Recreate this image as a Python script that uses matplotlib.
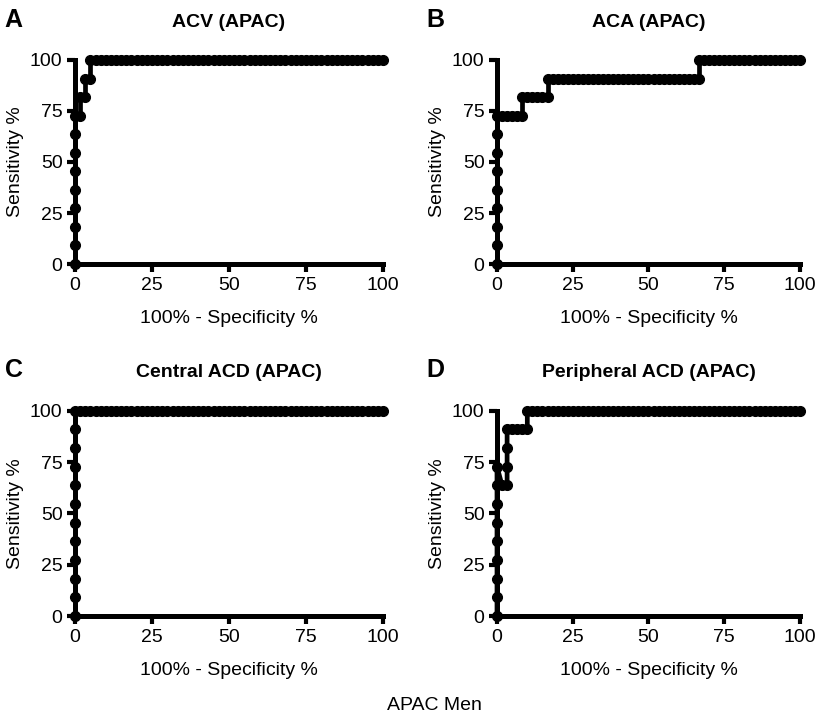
import numpy as np
import matplotlib.pyplot as plt

plt.rcParams['font.family'] = ['Liberation Sans', 'DejaVu Sans']

# ROC points as counts: false positives out of 60 controls, true positives out of 11 cases
n_neg = 60
n_pos = 11

acv_fp = [0, 0, 0, 0, 0, 0, 0, 0, 0, 1, 1, 2, 2, 3, 3,
          4, 5, 6, 7, 8, 9, 10, 11, 12, 13, 14, 15, 16, 17, 18, 19, 20, 21, 22, 23, 24,
          25, 26, 27, 28, 29, 30, 31, 32, 33, 34, 35, 36, 37, 38, 39, 40, 41, 42, 43, 44,
          45, 46, 47, 48, 49, 50, 51, 52, 53, 54, 55, 56, 57, 58, 59, 60]
acv_tp = [0, 1, 2, 3, 4, 5, 6, 7, 8, 8, 9, 9, 10, 10, 11,
          11, 11, 11, 11, 11, 11, 11, 11, 11, 11, 11, 11, 11, 11, 11, 11, 11, 11, 11, 11, 11,
          11, 11, 11, 11, 11, 11, 11, 11, 11, 11, 11, 11, 11, 11, 11, 11, 11, 11, 11, 11,
          11, 11, 11, 11, 11, 11, 11, 11, 11, 11, 11, 11, 11, 11, 11, 11]

aca_fp = [0, 0, 0, 0, 0, 0, 0, 0, 0, 1, 2, 3, 4, 5, 5, 6, 7, 8, 9, 10,
          10, 11, 12, 13, 14, 15, 16, 17, 18, 19, 20, 21, 22, 23, 24, 25,
          26, 27, 28, 29, 30, 31, 32, 33, 34, 35, 36, 37, 38, 39, 40,
          40, 41, 42, 43, 44, 45, 46, 47, 48, 49, 50, 51, 52, 53, 54, 55, 56, 57, 58, 59, 60]
aca_tp = [0, 1, 2, 3, 4, 5, 6, 7, 8, 8, 8, 8, 8, 8, 9, 9, 9, 9, 9, 9,
          10, 10, 10, 10, 10, 10, 10, 10, 10, 10, 10, 10, 10, 10, 10, 10,
          10, 10, 10, 10, 10, 10, 10, 10, 10, 10, 10, 10, 10, 10, 10,
          11, 11, 11, 11, 11, 11, 11, 11, 11, 11, 11, 11, 11, 11, 11, 11, 11, 11, 11, 11, 11]

cacd_fp = [0, 0, 0, 0, 0, 0, 0, 0, 0, 0, 0, 0,
           1, 2, 3, 4, 5, 6, 7, 8, 9, 10, 11, 12, 13, 14, 15, 16, 17, 18, 19, 20,
           21, 22, 23, 24, 25, 26, 27, 28, 29, 30, 31, 32, 33, 34, 35, 36, 37, 38, 39, 40,
           41, 42, 43, 44, 45, 46, 47, 48, 49, 50, 51, 52, 53, 54, 55, 56, 57, 58, 59, 60]
cacd_tp = [0, 1, 2, 3, 4, 5, 6, 7, 8, 9, 10, 11,
           11, 11, 11, 11, 11, 11, 11, 11, 11, 11, 11, 11, 11, 11, 11, 11, 11, 11, 11, 11,
           11, 11, 11, 11, 11, 11, 11, 11, 11, 11, 11, 11, 11, 11, 11, 11, 11, 11, 11, 11,
           11, 11, 11, 11, 11, 11, 11, 11, 11, 11, 11, 11, 11, 11, 11, 11, 11, 11, 11, 11]

pacd_fp = [0, 0, 0, 0, 0, 0, 0, 0, 0, 1, 2, 2, 2, 2, 3, 4, 5, 6, 6,
           7, 8, 9, 10, 11, 12, 13, 14, 15, 16, 17, 18, 19, 20, 21, 22, 23, 24, 25, 26,
           27, 28, 29, 30, 31, 32, 33, 34, 35, 36, 37, 38, 39, 40, 41, 42, 43, 44, 45, 46,
           47, 48, 49, 50, 51, 52, 53, 54, 55, 56, 57, 58, 59, 60]
pacd_tp = [0, 1, 2, 3, 4, 5, 6, 7, 8, 7, 7, 8, 9, 10, 10, 10, 10, 10, 11,
           11, 11, 11, 11, 11, 11, 11, 11, 11, 11, 11, 11, 11, 11, 11, 11, 11, 11, 11, 11,
           11, 11, 11, 11, 11, 11, 11, 11, 11, 11, 11, 11, 11, 11, 11, 11, 11, 11, 11, 11,
           11, 11, 11, 11, 11, 11, 11, 11, 11, 11, 11, 11, 11, 11]

panels = [
    ('A', 'ACV (APAC)', acv_fp, acv_tp),
    ('B', 'ACA (APAC)', aca_fp, aca_tp),
    ('C', 'Central ACD (APAC)', cacd_fp, cacd_tp),
    ('D', 'Peripheral ACD (APAC)', pacd_fp, pacd_tp),
]

# axes boxes in figure fractions (left, bottom, width, height)
boxes = [
    [0.0915, 0.6333, 0.3756, 0.2834],
    [0.6061, 0.6333, 0.3695, 0.2834],
    [0.0915, 0.1444, 0.3756, 0.2852],
    [0.6061, 0.1444, 0.3695, 0.2852],
]

fig = plt.figure(figsize=(8.2, 7.2), dpi=100)

for (letter, title, fp, tp), box in zip(panels, boxes):
    ax = fig.add_axes(box)
    x = np.array(fp) / n_neg * 100
    y = np.array(tp) / n_pos * 100
    ax.plot(x, y, color='black', lw=3.4, marker='o', ms=7, clip_on=False, zorder=5)
    ax.set_xlim(0, 100)
    ax.set_ylim(0, 100)
    ax.set_xticks([0, 25, 50, 75, 100])
    ax.set_yticks([0, 25, 50, 75, 100])
    for s in ['top', 'right']:
        ax.spines[s].set_visible(False)
    for s in ['left', 'bottom']:
        ax.spines[s].set_linewidth(3.6)
        ax.spines[s].set_capstyle('projecting')
    ax.tick_params(direction='out', length=6, width=3, labelsize=14, pad=3)
    ax.set_xlabel('100% - Specificity %', fontsize=14, labelpad=12)
    ax.set_ylabel('Sensitivity %', fontsize=14, labelpad=4)
    ax.set_title(title, fontsize=14, fontweight='bold', pad=24)
    bb = ax.get_position()
    fig.text(bb.x0 - 0.086, bb.y1 + 0.056, letter, fontsize=18, fontweight='bold',
             ha='left', va='center')

fig.text(0.53, 1 - 706 / 720, 'APAC Men', fontsize=14, ha='center', va='center')

fig.savefig('out.png', dpi=100)
